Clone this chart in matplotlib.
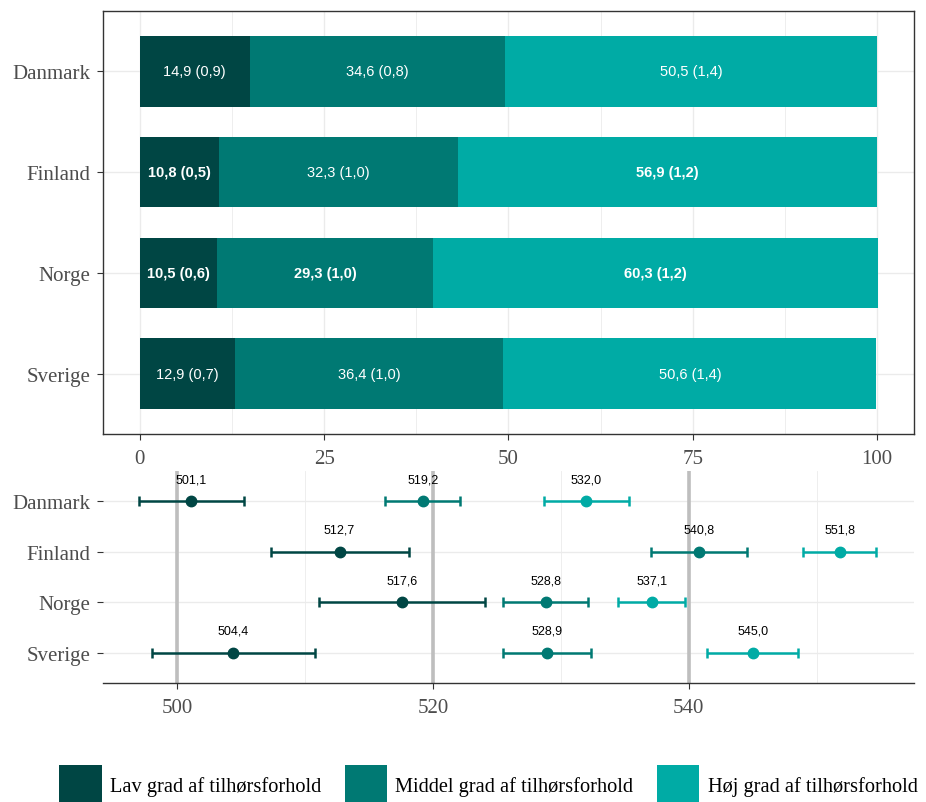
import matplotlib
matplotlib.use('Agg')
import matplotlib.pyplot as plt
from matplotlib.patches import Patch
from matplotlib.ticker import MultipleLocator

countries = ['Danmark', 'Finland', 'Norge', 'Sverige']
groups = ['Lav grad af tilhørsforhold', 'Middel grad af tilhørsforhold', 'Høj grad af tilhørsforhold']
colors = ['#004644', '#007973', '#00ABA5']

# percent of students in each group, standard error in brackets
pct_low = [14.9, 10.8, 10.5, 12.9]
pct_mid = [34.6, 32.3, 29.3, 36.4]
pct_high = [50.5, 56.9, 60.3, 50.6]
se_low = [0.9, 0.5, 0.6, 0.7]
se_mid = [0.8, 1.0, 1.0, 1.0]
se_high = [1.4, 1.2, 1.2, 1.4]
bold_cells = [[False, False, False],
              [True, False, True],
              [True, True, True],
              [False, False, False]]

# mean score per group with confidence interval half-width
score_low = [501.1, 512.7, 517.6, 504.4]
score_mid = [519.2, 540.8, 528.8, 528.9]
score_high = [532.0, 551.8, 537.1, 545.0]
ci_low = [4.1, 5.4, 6.5, 6.35]
ci_mid = [2.95, 3.75, 3.3, 3.45]
ci_high = [3.3, 2.85, 2.6, 3.55]

serif = 'Liberation Serif'
sans = 'Liberation Sans'
tick_col = '#4D4D4D'
grid_col = '#EBEBEB'

fig = plt.figure(figsize=(9.26, 8.03), dpi=100)
ax1 = fig.add_axes([0.1112, 0.4583, 0.8758, 0.5267])
ax2 = fig.add_axes([0.1112, 0.1482, 0.8758, 0.2640])

ypos = list(range(len(countries)))

# ---- top panel: stacked bars
pcts = [pct_low, pct_mid, pct_high]
ses = [se_low, se_mid, se_high]
left = [0.0] * len(countries)
for g in range(3):
    ax1.barh(ypos, pcts[g], left=left, height=0.7, color=colors[g], zorder=2)
    for i in ypos:
        txt = f"{pcts[g][i]:.1f} ({ses[g][i]:.1f})".replace('.', ',')
        ax1.text(left[i] + pcts[g][i] / 2, i, txt, ha='center', va='center',
                 color='white', fontsize=10.5, family=sans,
                 fontweight='bold' if bold_cells[i][g] else 'normal', zorder=3)
    left = [left[i] + pcts[g][i] for i in ypos]

ax1.set_xlim(-5, 105)
ax1.set_ylim(3.6, -0.6)
ax1.set_yticks(ypos)
ax1.set_yticklabels(countries)
ax1.set_xticks([0, 25, 50, 75, 100])
ax1.xaxis.set_minor_locator(MultipleLocator(12.5))
ax1.grid(which='major', color=grid_col, lw=1.0, zorder=0)
ax1.grid(which='minor', axis='x', color=grid_col, lw=0.6, zorder=0)
for sp in ax1.spines.values():
    sp.set_color('#333333')
    sp.set_linewidth(1.0)

# ---- bottom panel: mean scores
scores = [score_low, score_mid, score_high]
cis = [ci_low, ci_mid, ci_high]
ax2.set_xlim(494.2, 557.6)
ax2.set_ylim(3.6, -0.6)
for v in [500, 520, 540]:
    ax2.axvline(v, color='#BEBEBE', lw=2.6, zorder=1)
for g in range(3):
    ax2.errorbar(scores[g], ypos, xerr=cis[g], fmt='o', color=colors[g],
                 ms=7.5, elinewidth=1.8, capsize=3.3, capthick=1.8, zorder=3)
    for i in ypos:
        ax2.annotate(f"{scores[g][i]:.1f}".replace('.', ','), (scores[g][i], i),
                     xytext=(0, 16), textcoords='offset points', ha='center',
                     va='center', fontsize=9, family=sans, color='black')

ax2.set_yticks(ypos)
ax2.set_yticklabels(countries)
ax2.set_xticks([500, 520, 540])
ax2.xaxis.set_minor_locator(MultipleLocator(10))
ax2.grid(which='major', color=grid_col, lw=1.0, zorder=0)
ax2.grid(which='minor', axis='x', color=grid_col, lw=0.6, zorder=0)
for sp in ['left', 'right', 'top']:
    ax2.spines[sp].set_visible(False)
ax2.spines['bottom'].set_color('#333333')
ax2.spines['bottom'].set_linewidth(1.0)

for ax in (ax1, ax2):
    ax.set_axisbelow(True)
    ax.tick_params(which='major', length=4, color='#333333', labelcolor=tick_col,
                   labelsize=15)
    ax.tick_params(axis='y', pad=5)
    ax.tick_params(axis='x', pad=7)
    ax.tick_params(which='minor', length=0)
    for lab in ax.get_xticklabels() + ax.get_yticklabels():
        lab.set_family(serif)

handles = [Patch(facecolor=c, edgecolor='none') for c in colors]
fig.legend(handles, groups, loc='center', bbox_to_anchor=(0.5275, 0.0212), ncol=3,
           frameon=False, prop={'family': serif, 'size': 14.7},
           handlelength=2.06, handleheight=2.7, handletextpad=0.4,
           columnspacing=1.18, borderpad=0)

fig.savefig('out.png', dpi=100)
